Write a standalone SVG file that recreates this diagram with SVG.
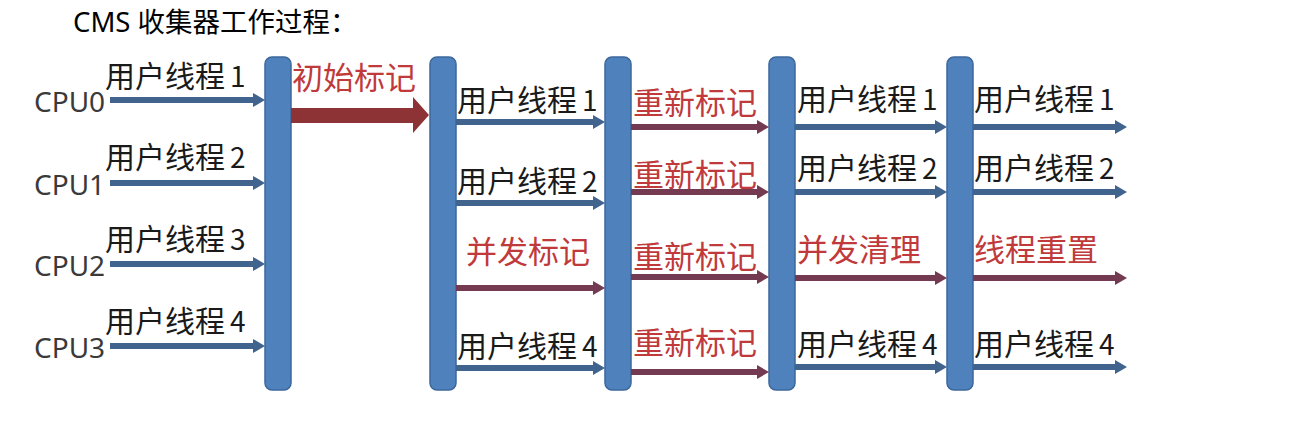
<svg xmlns="http://www.w3.org/2000/svg" width="1313" height="429" viewBox="0 0 1313 429">
<style>
.t{font-family:"Noto Sans CJK SC","Noto Sans",sans-serif;font-size:30px;fill:#1a1a1a}
.t tspan{font-size:28px}
.r{font-family:"Noto Sans CJK SC","Noto Sans",sans-serif;font-size:31px;fill:#c0393b}
.cpu{font-family:"Noto Sans","Liberation Sans",sans-serif;font-size:28px;fill:#3a3a3a}
.title{font-family:"Noto Sans","Noto Sans CJK SC",sans-serif;font-size:27.5px;fill:#000}
.bar{fill:#4f81bd;stroke:#3b679c;stroke-width:1.5}
.b{stroke:#41648f;stroke-width:6;fill:none;marker-end:url(#hb)}
.m{stroke:#733a52;stroke-width:6;fill:none;marker-end:url(#hm)}
</style>
<defs>
<marker id="hb" markerUnits="userSpaceOnUse" markerWidth="12" markerHeight="14" refX="3" refY="7" orient="auto"><path d="M0,0 L12,7 L0,14 z" fill="#41648f"/></marker>
<marker id="hm" markerUnits="userSpaceOnUse" markerWidth="12" markerHeight="14" refX="3" refY="7" orient="auto"><path d="M0,0 L12,7 L0,14 z" fill="#733a52"/></marker>
</defs>
<rect width="1313" height="429" fill="#fff"/>
<text class="title" x="73" y="32">CMS 收集器工作过程：</text>

<g id="bars">
<rect id="bar1" class="bar" x="265" y="57" width="26" height="333" rx="7"/>
<rect id="bar2" class="bar" x="430" y="57" width="26" height="333" rx="7"/>
<rect id="bar3" class="bar" x="605" y="57" width="26" height="333" rx="7"/>
<rect id="bar4" class="bar" x="769" y="57" width="26" height="333" rx="7"/>
<rect id="bar5" class="bar" x="947" y="57" width="26" height="333" rx="7"/>
</g>

<g id="connectors">
<line class="b" x1="110" y1="100" x2="256" y2="100"/>
<line class="b" x1="110" y1="183" x2="256" y2="183"/>
<line class="b" x1="110" y1="264" x2="256" y2="264"/>
<line class="b" x1="110" y1="346" x2="256" y2="346"/>
<path d="M291,108 H413 V97 L429,115 L413,133 V123 H291 Z" fill="#8e3335"/>
<line class="b" x1="456" y1="122" x2="596" y2="122"/>
<line class="b" x1="456" y1="203" x2="596" y2="203"/>
<line class="m" x1="456" y1="288" x2="596" y2="288"/>
<line class="b" x1="456" y1="368" x2="596" y2="368"/>
<line class="m" x1="631" y1="127" x2="760" y2="127"/>
<line class="m" x1="631" y1="192" x2="760" y2="192"/>
<line class="m" x1="631" y1="277" x2="760" y2="277"/>
<line class="m" x1="631" y1="372" x2="760" y2="372"/>
<line class="b" x1="795" y1="127" x2="938" y2="127"/>
<line class="b" x1="795" y1="192" x2="938" y2="192"/>
<line class="m" x1="795" y1="278" x2="938" y2="278"/>
<line class="b" x1="795" y1="367" x2="938" y2="367"/>
<line class="b" x1="973" y1="127" x2="1118" y2="127"/>
<line class="b" x1="973" y1="192" x2="1118" y2="192"/>
<line class="m" x1="973" y1="278" x2="1118" y2="278"/>
<line class="b" x1="973" y1="367" x2="1118" y2="367"/>
</g>

<g id="cpus">
<text class="cpu" x="34" y="112">CPU0</text>
<text class="cpu" x="34" y="195">CPU1</text>
<text class="cpu" x="34" y="276">CPU2</text>
<text class="cpu" x="34" y="358">CPU3</text>
</g>

<g id="labels">
<text class="t" x="105" y="87">用户线程<tspan dx="5">1</tspan></text>
<text class="t" x="105" y="168">用户线程<tspan dx="5">2</tspan></text>
<text class="t" x="105" y="250">用户线程<tspan dx="5">3</tspan></text>
<text class="t" x="105" y="332">用户线程<tspan dx="5">4</tspan></text>
<text class="r" x="292" y="89">初始标记</text>
<text class="t" x="457" y="111">用户线程<tspan dx="5">1</tspan></text>
<text class="t" x="457" y="192">用户线程<tspan dx="5">2</tspan></text>
<text class="r" x="466" y="263">并发标记</text>
<text class="t" x="457" y="357">用户线程<tspan dx="5">4</tspan></text>
<text class="r" x="633" y="114">重新标记</text>
<text class="r" x="633" y="186">重新标记</text>
<text class="r" x="633" y="268">重新标记</text>
<text class="r" x="633" y="354">重新标记</text>
<text class="t" x="797" y="110">用户线程<tspan dx="5">1</tspan></text>
<text class="t" x="797" y="179">用户线程<tspan dx="5">2</tspan></text>
<text class="r" x="797" y="261">并发清理</text>
<text class="t" x="797" y="355">用户线程<tspan dx="5">4</tspan></text>
<text class="t" x="974" y="110">用户线程<tspan dx="5">1</tspan></text>
<text class="t" x="974" y="179">用户线程<tspan dx="5">2</tspan></text>
<text class="r" x="974" y="261">线程重置</text>
<text class="t" x="974" y="355">用户线程<tspan dx="5">4</tspan></text>
</g>
</svg>
